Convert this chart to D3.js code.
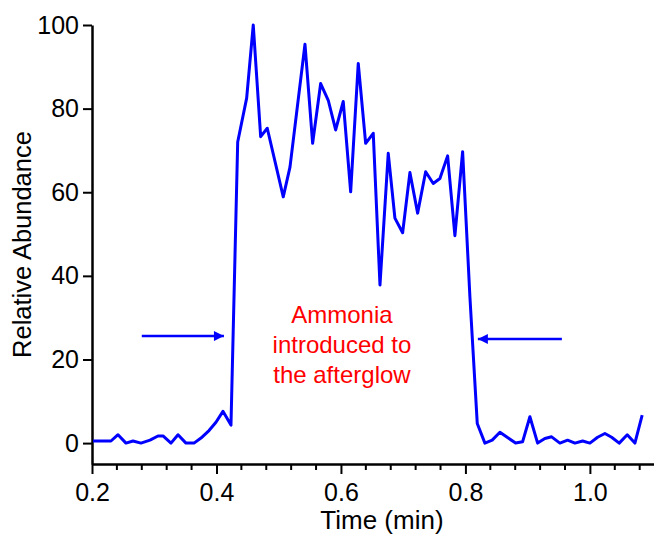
<!DOCTYPE html>
<html>
<head>
<meta charset="utf-8">
<script src="https://cdn.jsdelivr.net/npm/d3@7/dist/d3.min.js"></script>
<style>
  html, body { margin: 0; padding: 0; background: #fff; }
  svg text { font-family: "Liberation Sans", Arial, sans-serif; }
</style>
</head>
<body>
<div id="chart"></div>
<script>
// ── Ammonia afterglow trace — relative abundance vs time ──

const times = [
  0.2016, 0.2129, 0.2305, 0.2418, 0.2546, 0.2659, 0.2787, 0.2932, 0.3060, 0.3141,
  0.3269, 0.3382, 0.3510, 0.3639, 0.3751, 0.3880, 0.3992, 0.4104, 0.4233, 0.4341,
  0.4485, 0.4591, 0.4710, 0.4816, 0.5073, 0.5181, 0.5422, 0.5545, 0.5674, 0.5796,
  0.5915, 0.6037, 0.6156, 0.6278, 0.6397, 0.6519, 0.6627, 0.6760, 0.6867, 0.6991,
  0.7108, 0.7232, 0.7361, 0.7483, 0.7590, 0.7714, 0.7831, 0.7955, 0.8072, 0.8190,
  0.8313, 0.8430, 0.8554, 0.8671, 0.8806, 0.8918, 0.9036, 0.9160, 0.9277, 0.9385,
  0.9518, 0.9642, 0.9759, 0.9883, 1.0000, 1.0124, 1.0241, 1.0349, 1.0471, 1.0600,
  1.0723, 1.0840
];
const abundance = [
  0.5, 0.5, 0.5, 2.0, 0.0, 0.5, 0.0, 0.7, 1.7, 1.7,
  0.0, 2.0, 0.0, 0.0, 1.2, 3.0, 5.0, 7.6, 4.3, 72.0,
  82.5, 100.0, 73.3, 75.3, 58.9, 66.0, 95.4, 71.7, 86.0, 82.0,
  74.9, 81.7, 60.1, 90.8, 71.7, 74.1, 37.8, 69.3, 53.8, 50.3,
  64.7, 55.0, 64.9, 62.1, 63.3, 68.7, 49.6, 69.7, 35.0, 4.7,
  0.0, 0.7, 2.6, 1.4, 0.0, 0.3, 6.3, 0.0, 1.1, 1.5,
  0.0, 0.7, 0.0, 0.5, 0.0, 1.4, 2.3, 1.4, 0.0, 2.0,
  0.0, 6.7
];

const xMajorTicks = [0.2, 0.4, 0.6, 0.8, 1.0];
const xMinorTicks = d3.range(0.24, 1.1, 0.04).filter(v => Math.abs(Math.round(v / 0.2) * 0.2 - v) > 1e-6);
const yTicks = [0, 20, 40, 60, 80, 100];

const noteLines = ['Ammonia', 'introduced to', 'the afterglow'];
// arrows: [from time, to time, abundance level]
const arrowLeft = [0.28, 0.412, 25.6];
const arrowRight = [0.955, 0.82, 24.9];

const width = 654, height = 535;
const margin = { top: 25, right: 0, bottom: 71, left: 92 };

const svg = d3.select('#chart').append('svg')
  .attr('width', width)
  .attr('height', height);

const x = d3.scaleLinear()
  .domain([0.2, 1.103])
  .range([margin.left, width - margin.right]);
const y = d3.scaleLinear()
  .domain([-5, 100])
  .range([height - margin.bottom, margin.top]);

svg.append('defs').append('marker')
  .attr('id', 'head')
  .attr('viewBox', '0 0 10 10')
  .attr('refX', 10).attr('refY', 5)
  .attr('markerWidth', 5.5).attr('markerHeight', 4)
  .attr('markerUnits', 'strokeWidth')
  .attr('orient', 'auto')
  .append('path')
  .attr('d', 'M0,0 L10,5 L0,10 Z')
  .attr('fill', '#0000ff');

// X axis
const xAxis = svg.append('g')
  .attr('transform', `translate(0,${y(-5)})`);
xAxis.call(d3.axisBottom(x).tickValues(xMajorTicks).tickFormat(d3.format('.1f'))
  .tickSize(10).tickSizeOuter(0));
xAxis.append('g').selectAll('line')
  .data(xMinorTicks)
  .join('line')
  .attr('x1', d => x(d)).attr('x2', d => x(d))
  .attr('y1', 0).attr('y2', 6)
  .attr('stroke', '#000').attr('stroke-width', 2);

// Y axis
const yAxis = svg.append('g')
  .attr('transform', `translate(${x(0.2)},0)`);
yAxis.call(d3.axisLeft(y).tickValues(yTicks).tickSize(9).tickSizeOuter(0));

svg.selectAll('.domain').attr('stroke', '#000').attr('stroke-width', 2.5);
svg.selectAll('.tick line').attr('stroke', '#000').attr('stroke-width', 2);
svg.selectAll('.tick text')
  .attr('font-size', 25).attr('fill', '#000')
  .attr('font-family', '"Liberation Sans", Arial, sans-serif');
xAxis.selectAll('.tick text').attr('dy', '0.95em');
yAxis.selectAll('.tick text').attr('x', -13);

// Axis titles
svg.append('text')
  .attr('x', x(0.6) + 41).attr('y', 529)
  .attr('text-anchor', 'middle')
  .attr('font-size', 26)
  .text('Time (min)');
svg.append('text')
  .attr('transform', `translate(31,${y(47.5)}) rotate(-90)`)
  .attr('text-anchor', 'middle')
  .attr('font-size', 25.5)
  .text('Relative Abundance');

// Trace
const line = d3.line()
  .x((d, i) => x(times[i]))
  .y(d => y(d));
svg.append('path')
  .datum(abundance)
  .attr('fill', 'none')
  .attr('stroke', '#0000ff')
  .attr('stroke-width', 3)
  .attr('stroke-linejoin', 'round')
  .attr('d', line);

// Arrows
[arrowLeft, arrowRight].forEach(a => {
  svg.append('line')
    .attr('x1', x(a[0])).attr('x2', x(a[1]))
    .attr('y1', y(a[2])).attr('y2', y(a[2]))
    .attr('stroke', '#0000ff')
    .attr('stroke-width', 2.5)
    .attr('marker-end', 'url(#head)');
});

// Annotation
svg.append('g')
  .selectAll('text')
  .data(noteLines)
  .join('text')
  .attr('x', x(0.6) + 1)
  .attr('y', (d, i) => y(28.7) + i * 30)
  .attr('text-anchor', 'middle')
  .attr('font-size', 24)
  .attr('fill', '#ff0000')
  .text(d => d);
</script>
</body>
</html>
